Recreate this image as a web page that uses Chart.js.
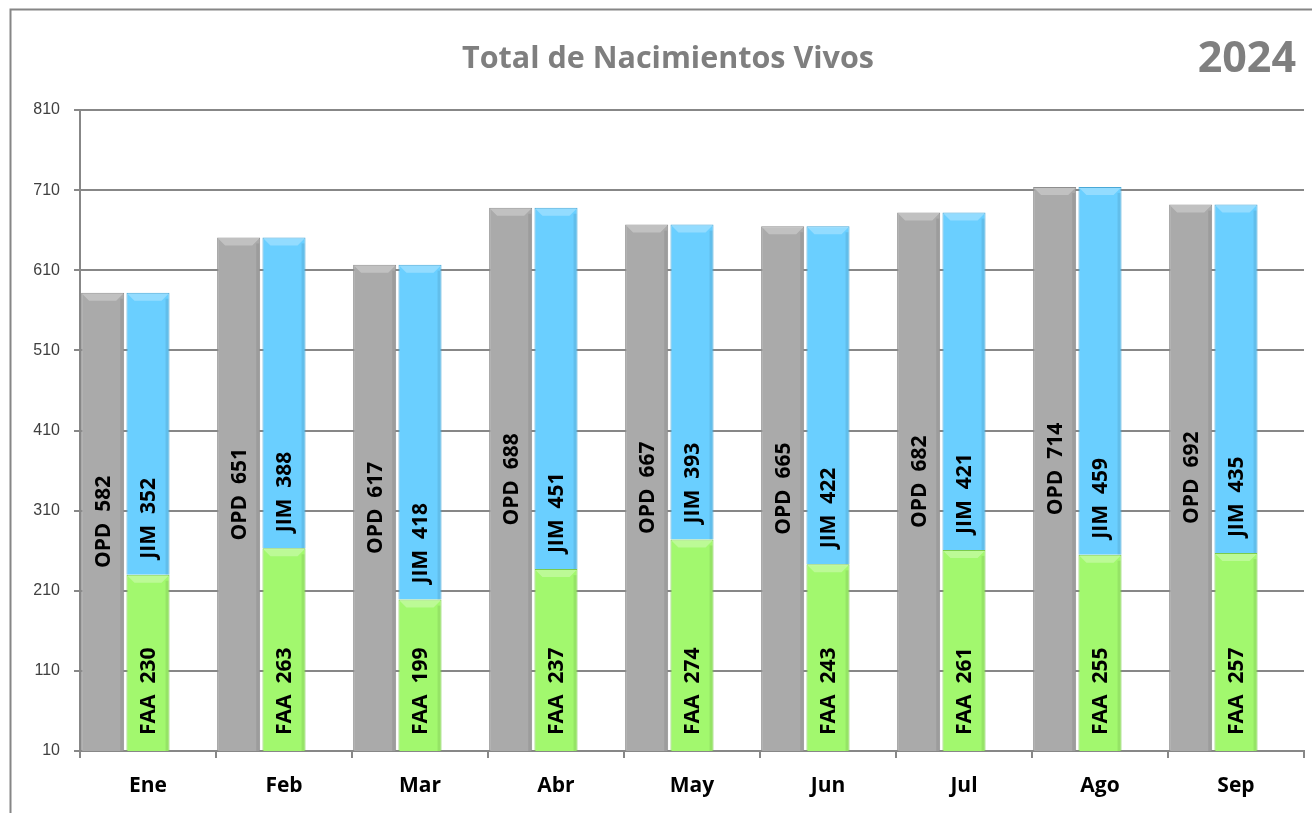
<!DOCTYPE html>
<html>
<head>
<meta charset="utf-8">
<script src="https://cdn.jsdelivr.net/npm/chart.js@4/dist/chart.umd.min.js"></script>
<style>
  html, body { margin: 0; padding: 0; background: #fff; overflow: hidden; }
  canvas { display: block; }
</style>
</head>
<body>
<canvas id="c" width="1312" height="813"></canvas>
<script>
const months = ['Ene','Feb','Mar','Abr','May','Jun','Jul','Ago','Sep'];
const opd = [582, 651, 617, 688, 667, 665, 682, 714, 692];
const faa = [230, 263, 199, 237, 274, 243, 261, 255, 257];
const jim = [352, 388, 418, 451, 393, 422, 421, 459, 435];
const yTicks = [10, 110, 210, 310, 410, 510, 610, 710, 810];
const titleText = 'Total de Nacimientos Vivos';
const yearText = '2024';

const GRID = '#878787';

const framePlugin = {
  id: 'frame',
  beforeDraw(chart) {
    const ctx = chart.ctx;
    ctx.save();
    ctx.fillStyle = '#fff';
    ctx.fillRect(0, 0, chart.width, chart.height);
    ctx.strokeStyle = '#868686';
    ctx.lineWidth = 2;
    ctx.strokeRect(10.5, 9.5, 1400, 900);
    ctx.fillStyle = '#7f7f7f';
    ctx.font = 'bold 30.5px "Open Sans"';
    ctx.textAlign = 'center';
    ctx.textBaseline = 'middle';
    ctx.fillText(titleText, 668, 59);
    ctx.font = 'bold 43px "Open Sans"';
    ctx.textAlign = 'right';
    ctx.fillText(yearText, 1296, 60);
    ctx.restore();
  }
};

const bevelPlugin = {
  id: 'bevel',
  afterDatasetsDraw(chart) {
    const ctx = chart.ctx;
    const area = chart.chartArea;
    ctx.save();
    ctx.beginPath();
    ctx.rect(area.left, area.top, area.right - area.left, area.bottom - area.top);
    ctx.clip();
    chart.data.datasets.forEach((ds, di) => {
      if (!ds.labelPrefix) return;
      const meta = chart.getDatasetMeta(di);
      meta.data.forEach((bar, i) => {
        const p = bar.getProps(['x', 'y', 'base', 'width'], true);
        const left = p.x - p.width / 2, right = p.x + p.width / 2;
        const top = p.y;
        ctx.fillStyle = 'rgba(255,255,255,0.28)';
        ctx.beginPath();
        ctx.moveTo(left + 1, top + 1);
        ctx.lineTo(right - 1, top + 1);
        ctx.lineTo(right - 8, top + 8);
        ctx.lineTo(left + 8, top + 8);
        ctx.closePath();
        ctx.fill();
        ctx.fillStyle = 'rgba(0,0,0,0.08)';
        ctx.fillRect(right - 4, top + 6, 3, Math.min(p.base, area.bottom) - top - 6);
      });
    });
    ctx.restore();
  }
};

const labelPlugin = {
  id: 'barLabels',
  afterDatasetsDraw(chart) {
    const ctx = chart.ctx;
    const area = chart.chartArea;
    ctx.save();
    ctx.fillStyle = '#000';
    ctx.font = 'bold 21px "Open Sans"';
    ctx.textBaseline = 'middle';
    chart.data.datasets.forEach((ds, di) => {
      if (!ds.labelPrefix) return;
      const meta = chart.getDatasetMeta(di);
      meta.data.forEach((bar, i) => {
        const p = bar.getProps(['x', 'y', 'base'], true);
        const bottom = Math.min(p.base, area.bottom);
        const txt = ds.labelPrefix + '  ' + ds.data[i];
        ctx.save();
        if (ds.labelPos === 'center') {
          ctx.translate(p.x + 1, (p.y + bottom) / 2);
          ctx.rotate(-Math.PI / 2);
          ctx.textAlign = 'center';
          ctx.fillText(txt, 0, 0);
        } else {
          ctx.translate(p.x + 1, bottom - 16);
          ctx.rotate(-Math.PI / 2);
          ctx.textAlign = 'left';
          ctx.fillText(txt, 0, 0);
        }
        ctx.restore();
      });
    });
    ctx.restore();
  }
};

new Chart(document.getElementById('c'), {
  type: 'bar',
  data: {
    labels: months,
    datasets: [
      { label: 'OPD', data: opd, stack: 'a', backgroundColor: '#AAAAAA', borderColor: '#8E8E8E', borderWidth: 1, labelPrefix: 'OPD', labelPos: 'center' },
      { label: 'FAA', data: faa, stack: 'b', backgroundColor: '#A2F86E', borderColor: '#7BCB4C', borderWidth: 1, labelPrefix: 'FAA', labelPos: 'base' },
      { label: 'JIM', data: jim, stack: 'b', backgroundColor: '#6ACFFF', borderColor: '#4AA8D6', borderWidth: 1, labelPrefix: 'JIM', labelPos: 'base' },
      { label: '', data: months.map(() => null), stack: 'c', backgroundColor: 'rgba(0,0,0,0)' }
    ]
  },
  options: {
    responsive: false,
    animation: false,
    devicePixelRatio: 1,
    categoryPercentage: 1,
    barPercentage: 0.95,
    layout: { padding: { top: 110, right: 8, bottom: 0, left: 0 } },
    plugins: {
      legend: { display: false },
      tooltip: { enabled: false },
      title: { display: false }
    },
    scales: {
      x: {
        stacked: true,
        offset: true,
        afterFit(scale) { scale.height = 62; },
        grid: { display: true, drawOnChartArea: false, drawTicks: true, tickLength: 7, color: GRID, lineWidth: 2, offset: true },
        border: { display: true, color: GRID, width: 2 },
        ticks: { color: '#000', font: { family: '"Open Sans"', size: 21, weight: 'bold' }, padding: 15, maxRotation: 0 }
      },
      y: {
        stacked: true,
        min: 10,
        max: 810,
        afterFit(scale) { scale.width = 80; },
        afterBuildTicks(scale) { scale.ticks = yTicks.map(v => ({ value: v })); },
        grid: { color: GRID, lineWidth: 2, tickLength: 6, drawTicks: true },
        border: { display: true, color: GRID, width: 2 },
        ticks: { color: '#404040', font: { family: '"Liberation Sans"', size: 16 }, padding: 14 }
      }
    }
  },
  plugins: [framePlugin, bevelPlugin, labelPlugin]
});
</script>
</body>
</html>
